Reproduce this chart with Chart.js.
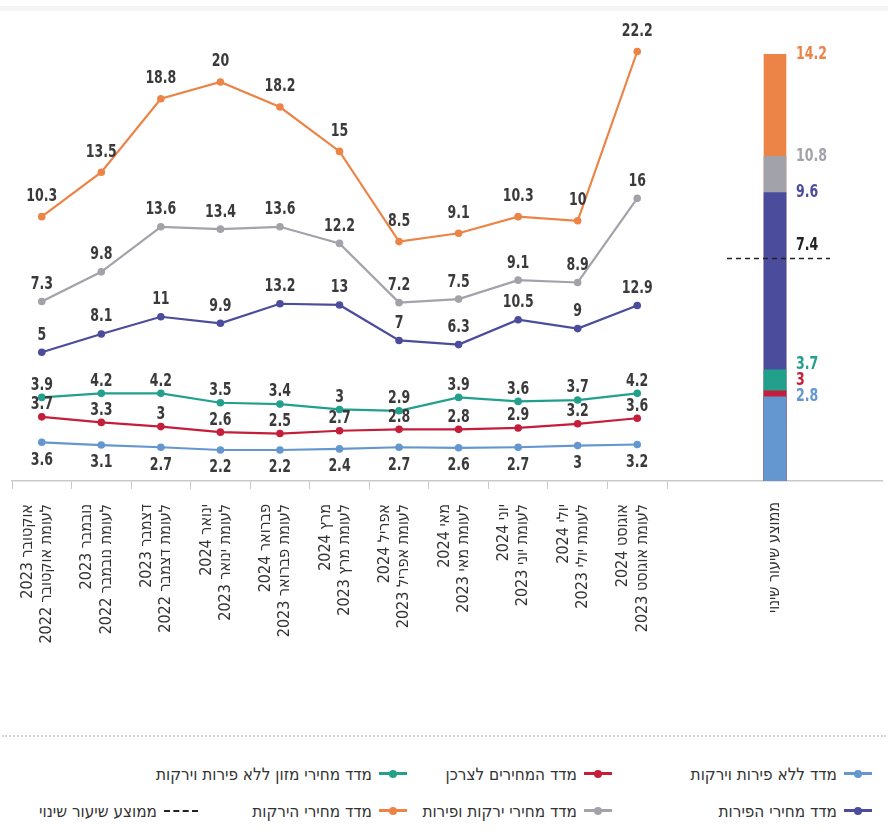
<!DOCTYPE html>
<html lang="he">
<head>
<meta charset="utf-8">
<title>שיעורי שינוי במדדי המחירים</title>
<script src="https://cdn.jsdelivr.net/npm/chart.js@4.4.1/dist/chart.umd.min.js"></script>
<style>
    html, body { margin: 0; padding: 0; background: #fff; }
    body {
        width: 888px; height: 837px; overflow: hidden; position: relative;
        font-family: "Liberation Sans Narrow", "DejaVu Sans Condensed", sans-serif;
    }
    #wrap { position: absolute; left: 0; top: 0; width: 888px; height: 730px; }
    #wrap canvas { position: absolute; top: 0; direction: rtl; }
    #lineChart { left: 0; }
    #avgChart { left: 667px; }
    .topband { position: absolute; left: 0; top: 6px; width: 888px; height: 5px; background: #f4f4f4; }
    .sep { position: absolute; left: 2px; right: 2px; top: 735px; border-top: 2px dotted #d6d6d6; }
    #legend { position: absolute; top: 755px; left: 0; width: 888px; direction: rtl; }
    .row {
        display: grid; grid-template-columns: 260px 205px 209px auto;
        padding-right: 16px; height: 37px; align-items: center;
    }
    .item { display: flex; align-items: center; gap: 7px; font-size: 17px; color: #333; white-space: nowrap; }
    .mark { position: relative; flex: 0 0 28px; width: 28px; height: 3px; }
    .mark i {
        position: absolute; left: 50%; top: 50%; width: 8px; height: 8px;
        border-radius: 50%; transform: translate(-50%, -50%);
    }
    .dash { flex: 0 0 34px; width: 34px; height: 0; border-top: 2px dashed #222; }
</style>
</head>
<body>
<div class="topband"></div>
<div id="wrap">
    <canvas id="lineChart" width="888" height="730"></canvas>
    <canvas id="avgChart" width="216" height="730"></canvas>
</div>
<div class="sep"></div>
<div id="legend"></div>

<script>
'use strict';

// categories (month compared with same month a year earlier)
const months = [
    ['אוקטובר 2023', 'לעומת אוקטובר 2022'],
    ['נובמבר 2023', 'לעומת נובמבר 2022'],
    ['דצמבר 2023', 'לעומת דצמבר 2022'],
    ['ינואר 2024', 'לעומת ינואר 2023'],
    ['פברואר 2024', 'לעומת פברואר 2023'],
    ['מרץ 2024', 'לעומת מרץ 2023'],
    ['אפריל 2024', 'לעומת אפריל 2023'],
    ['מאי 2024', 'לעומת מאי 2023'],
    ['יוני 2024', 'לעומת יוני 2023'],
    ['יולי 2024', 'לעומת יולי 2023'],
    ['אוגוסט 2024', 'לעומת אוגוסט 2023']
];

// yearly change, %
const vegetables = [10.3, 13.5, 18.8, 20, 18.2, 15, 8.5, 9.1, 10.3, 10, 22.2];
const fruitsVeg  = [7.3, 9.8, 13.6, 13.4, 13.6, 12.2, 7.2, 7.5, 9.1, 8.9, 16];
const fruits     = [5, 8.1, 11, 9.9, 13.2, 13, 7, 6.3, 10.5, 9, 12.9];
const foodNoFV   = [3.9, 4.2, 4.2, 3.5, 3.4, 3, 2.9, 3.9, 3.6, 3.7, 4.2];
const cpi        = [3.7, 3.3, 3, 2.6, 2.5, 2.7, 2.8, 2.8, 2.9, 3.2, 3.6];
const cpiNoFV    = [3.6, 3.1, 2.7, 2.2, 2.2, 2.4, 2.7, 2.6, 2.7, 3, 3.2];

// average change per series (cpiNoFV, cpi, foodNoFV, fruits, fruitsVeg, vegetables)
const avgLabel = 'ממוצע שיעור שינוי';
const avgValues = [2.8, 3, 3.7, 9.6, 10.8, 14.2];
const overallAvg = 7.4;

const names = {
    cpiNoFV: 'מדד ללא פירות וירקות',
    cpi: 'מדד המחירים לצרכן',
    foodNoFV: 'מדד מחירי מזון ללא פירות וירקות',
    fruits: 'מדד מחירי הפירות',
    fruitsVeg: 'מדד מחירי ירקות ופירות',
    vegetables: 'מדד מחירי הירקות'
};

const colors = {
    cpiNoFV: '#6497d0',
    cpi: '#c41e3a',
    foodNoFV: '#22a08c',
    fruits: '#4c4c9c',
    fruitsVeg: '#a2a2aa',
    vegetables: '#ec8447'
};

const condensed = '"Liberation Sans Narrow", "DejaVu Sans Condensed", sans-serif';
Chart.defaults.font.family = condensed;
Chart.defaults.color = '#333';

// numbers in the original are set in a narrow bold face, squeeze them a bit
function drawNumber(ctx, text, x, y, align) {
    ctx.save();
    ctx.translate(x, y);
    ctx.scale(0.82, 1);
    ctx.font = 'bold 17px "DejaVu Sans Condensed", sans-serif';
    ctx.textAlign = align;
    ctx.textBaseline = 'middle';
    ctx.fillText(text, 0, 0);
    ctx.restore();
}

function makeLine(key, data, labelOffset) {
    return {
        label: names[key],
        data: data,
        yAxisID: 'y_' + key,
        borderColor: colors[key],
        backgroundColor: colors[key],
        borderWidth: 2.2,
        pointRadius: 3.8,
        pointBorderWidth: 0,
        pointBackgroundColor: colors[key],
        tension: 0,
        labelOffset: labelOffset
    };
}

// value labels above (or below) every point
const pointLabels = {
    id: 'pointLabels',
    afterDatasetsDraw(chart) {
        const ctx = chart.ctx;
        ctx.save();
        ctx.fillStyle = '#3a3a3a';
        chart.data.datasets.forEach((ds, i) => {
            chart.getDatasetMeta(i).data.forEach((pt, j) => {
                drawNumber(ctx, String(ds.data[j]), pt.x, pt.y - ds.labelOffset, 'center');
            });
        });
        ctx.restore();
    }
};

// each series sits on its own hidden scale, as in the original drawing
const hiddenY = (min, max) => ({ display: false, min: min, max: max });

new Chart(document.getElementById('lineChart'), {
    type: 'line',
    data: {
        labels: months,
        datasets: [
            makeLine('vegetables', vegetables, 20),
            makeLine('fruitsVeg', fruitsVeg, 17),
            makeLine('fruits', fruits, 17),
            makeLine('foodNoFV', foodNoFV, 12),
            makeLine('cpi', cpi, 12),
            makeLine('cpiNoFV', cpiNoFV, -18)
        ]
    },
    options: {
        responsive: false,
        animation: false,
        layout: { padding: { left: 12, right: 221, top: 20, bottom: 0 } },
        plugins: { legend: { display: false }, tooltip: { enabled: false } },
        scales: {
            x: {
                offset: true,
                grid: { offset: true, drawOnChartArea: false, drawTicks: true, tickLength: 8, color: '#c9c9c9' },
                border: { color: '#c9c9c9', width: 1.5 },
                ticks: {
                    autoSkip: false, minRotation: 90, maxRotation: 90, padding: 15, labelOffset: -14,
                    color: '#333', font: { size: 16 }
                },
                afterFit(scale) { scale.height = 249; }
            },
            y_vegetables: hiddenY(-8.75, 24.47),
            y_fruitsVeg: hiddenY(-7.85, 31.05),
            y_fruits: hiddenY(-16.74, 61.13),
            y_foodNoFV: hiddenY(-2.34, 32.06),
            y_cpi: hiddenY(-0.91, 32.21),
            y_cpiNoFV: hiddenY(-3.44, 80.38)
        }
    },
    plugins: [pointLabels]
});

// average bar: overlapping bars from zero, smallest on top
const avgKeys = ['cpiNoFV', 'cpi', 'foodNoFV', 'fruits', 'fruitsVeg', 'vegetables'];

const avgLabels = {
    id: 'avgLabels',
    afterDatasetsDraw(chart) {
        const ctx = chart.ctx;
        const yScale = chart.scales.y;
        const bar = chart.getDatasetMeta(0).data[0];
        const textX = bar.x + bar.width / 2 + 10;
        ctx.save();
        let prevY = Infinity;
        avgValues.forEach((v, i) => {
            let y = Math.min(yScale.getPixelForValue(v), prevY - 16);
            y = Math.max(y, chart.chartArea.top + 6);
            prevY = y;
            ctx.fillStyle = colors[avgKeys[i]];
            drawNumber(ctx, String(v), textX, y, 'left');
        });

        const avgY = yScale.getPixelForValue(overallAvg);
        ctx.strokeStyle = '#222';
        ctx.lineWidth = 1.5;
        ctx.setLineDash([5, 4]);
        ctx.beginPath();
        ctx.moveTo(bar.x - 48, avgY);
        ctx.lineTo(bar.x + 55, avgY);
        ctx.stroke();
        ctx.setLineDash([]);
        ctx.fillStyle = '#222';
        drawNumber(ctx, String(overallAvg), textX, avgY - 13, 'left');
        ctx.restore();
    }
};

new Chart(document.getElementById('avgChart'), {
    type: 'bar',
    data: {
        labels: [avgLabel],
        datasets: avgKeys.map((k, i) => ({
            label: names[k],
            data: [avgValues[i]],
            backgroundColor: colors[k],
            barThickness: 22,
            grouped: false
        }))
    },
    options: {
        responsive: false,
        animation: false,
        layout: { padding: { left: 0, right: 0, top: 20, bottom: 0 } },
        plugins: { legend: { display: false }, tooltip: { enabled: false } },
        scales: {
            x: {
                offset: true,
                grid: { display: true, drawOnChartArea: false, drawTicks: false },
                border: { color: '#c9c9c9', width: 1.5 },
                ticks: {
                    autoSkip: false, minRotation: 90, maxRotation: 90, padding: 21,
                    color: '#333', font: { size: 16 }
                },
                afterFit(scale) { scale.height = 249; }
            },
            y: { display: false, min: 0, max: 15.34 }
        }
    },
    plugins: [avgLabels]
});

// legend, laid out in two right-to-left rows like the original
const legendRows = [
    ['cpiNoFV', 'cpi', 'foodNoFV'],
    ['fruits', 'fruitsVeg', 'vegetables', 'avg']
];
const legend = document.getElementById('legend');
legendRows.forEach(row => {
    const rowEl = document.createElement('div');
    rowEl.className = 'row';
    row.forEach(key => {
        const item = document.createElement('div');
        item.className = 'item';
        if (key === 'avg') {
            item.innerHTML = '<span class="dash"></span><span>' + avgLabel + '</span>';
        } else {
            item.innerHTML = '<span class="mark" style="background:' + colors[key] + '"><i style="background:' +
                colors[key] + '"></i></span><span>' + names[key] + '</span>';
        }
        rowEl.appendChild(item);
    });
    legend.appendChild(rowEl);
});
</script>
</body>
</html>
